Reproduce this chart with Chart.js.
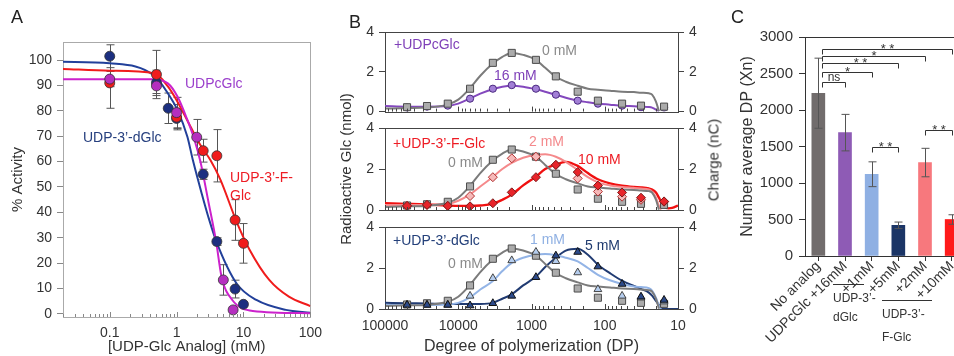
<!DOCTYPE html>
<html lang="en">
<head>
<meta charset="UTF-8">
<title>UDP-Glc analogs and cellulose DP</title>
<script src="https://cdn.jsdelivr.net/npm/chart.js"></script>
<style>
  html, body { margin: 0; padding: 0; background: #fff; overflow: hidden; }
  body { width: 954px; height: 356px; position: relative; font-family: "Liberation Sans", Arial, sans-serif; color: #333; }
  canvas { position: absolute; }
  .lbl { position: absolute; white-space: nowrap; line-height: 1; }
  .letter { font-size: 18px; color: #222; }
  .ovl { position: absolute; border-top: 1px solid #333; height: 0; }
  .rot { position: absolute; white-space: nowrap; line-height: 1; transform: translate(-50%, -50%) rotate(-90deg); }
</style>
</head>
<body>

<canvas id="cA" width="330" height="356" style="left:0;top:0"></canvas>
<canvas id="cB1" width="400" height="125" style="left:330px;top:0"></canvas>
<canvas id="cB2" width="400" height="356" style="left:330px;top:0"></canvas>
<canvas id="cB3" width="400" height="156" style="left:330px;top:200px"></canvas>
<canvas id="cC" width="250" height="356" style="left:730px;top:0"></canvas>

<div class="lbl letter" style="left:11px;top:8px">A</div>
<div class="lbl letter" style="left:349px;top:13px">B</div>
<div class="lbl letter" style="left:731px;top:8px">C</div>

<!-- panel A curve names -->
<div class="lbl" style="left:185px;top:76px;font-size:14px;color:#9b3fcc">UDPcGlc</div>
<div class="lbl" style="left:83px;top:130px;font-size:14px;color:#27407f">UDP-3’-dGlc</div>
<div class="lbl" style="left:230px;top:168px;font-size:14px;color:#ee1c24;line-height:18px">UDP-3’-F-<br>Glc</div>

<!-- panel B labels -->
<div class="lbl" style="left:394px;top:37px;font-size:14px;color:#7e3fb8">+UDPcGlc</div>
<div class="lbl" style="left:542px;top:43px;font-size:14px;color:#8a8a8a">0 mM</div>
<div class="lbl" style="left:494px;top:68px;font-size:14px;color:#7e3fb8">16 mM</div>
<div class="lbl" style="left:393px;top:136px;font-size:14px;color:#ee1c24">+UDP-3’-F-Glc</div>
<div class="lbl" style="left:529px;top:134px;font-size:14px;color:#f4898c">2 mM</div>
<div class="lbl" style="left:448px;top:155px;font-size:14px;color:#8a8a8a">0 mM</div>
<div class="lbl" style="left:578px;top:152px;font-size:14px;color:#ee1c24">10 mM</div>
<div class="lbl" style="left:393px;top:233px;font-size:14px;color:#24407a">+UDP-3’-dGlc</div>
<div class="lbl" style="left:530px;top:232px;font-size:14px;color:#8fb0e3">1 mM</div>
<div class="lbl" style="left:585px;top:238px;font-size:14px;color:#1f3a6e">5 mM</div>
<div class="lbl" style="left:448px;top:256px;font-size:14px;color:#8a8a8a">0 mM</div>
<div class="rot" style="left:713px;top:160px;font-size:15px;color:#333">Charge (nC)</div>

<!-- panel C analog groups -->
<div class="ovl" style="left:833px;top:284px;width:31px"></div>
<div class="lbl" style="left:833px;top:289px;font-size:12px;line-height:19px">UDP-3’-<br>dGlc</div>
<div class="ovl" style="left:882px;top:300px;width:50px"></div>
<div class="lbl" style="left:882px;top:303px;font-size:12px;line-height:23px">UDP-3’-<br>F-Glc</div>

<script>
// ---------- Panel A: % activity vs analog concentration (mM) ----------
const aTicksX = [0.1, 1, 10, 100];
const aTicksY = [0, 10, 20, 30, 40, 50, 60, 70, 80, 90, 100];

const dGlcConc = [0.1, 0.5, 0.75, 1, 2.5, 4, 7.5, 10];
const dGlcAct  = [101.5, 91, 81, 77, 55, 28.5, 9.8, 3.8];
const dGlcErr  = [4.5, 5, 6, 4, 2, 1.5, 3.5, 1];

const fGlcConc = [0.1, 0.5, 1, 2.5, 4, 7.5, 10];
const fGlcAct  = [91, 94.3, 77.5, 64.3, 62.3, 37, 27.8];
const fGlcErr  = [10, 9.5, 5, 4.5, 10.3, 8, 7.8];

const cGlcConc = [0.1, 0.5, 1, 2, 5, 7];
const cGlcAct  = [92.5, 89.8, 79.3, 69.6, 13.4, 1.6];
const cGlcErr  = [3, 3, 6, 7, 6, 0];

// fitted curves
const dGlcFitX = [0.02, 0.1, 0.47, 0.74, 1.03, 1.45, 1.75, 2.4, 3, 4, 7.9, 15.6, 43, 100];
const dGlcFitY = [99.3, 98.7, 93.7, 86.9, 80.3, 69.8, 60.6, 47, 38, 28, 12, 5.5, 1.6, 0.5];
const fGlcFitX = [0.02, 0.1, 0.47, 0.74, 1.03, 1.62, 2.27, 3.2, 4.5, 7.9, 12.4, 24.3, 47.8, 100];
const fGlcFitY = [96.5, 95.8, 94.8, 89.6, 83.6, 73.7, 66.5, 60.6, 53, 36.3, 25.2, 13.4, 6.8, 3.1];
const cGlcFitX = [0.02, 0.43, 0.74, 1.03, 1.45, 1.83, 2.27, 3, 3.9, 4.7, 6.8, 13.8, 100];
const cGlcFitY = [92.4, 92.4, 90.8, 85.6, 76.4, 69, 60, 44, 28.5, 14.7, 5.5, 1.2, 0.3];

// ---------- Panel B: SEC profiles, radioactive Glc (nmol) vs DP ----------
const bTicksX = [100000, 10000, 1000, 100, 10];
const bTicksY = [0, 2, 4];
const fracDP = [50000, 26700, 13900, 6900, 3370, 1860, 870, 465, 234, 124, 58, 32, 15.5];
const ctrlFrac   = [0.22, 0.28, 0.4, 1.15, 2.45, 2.95, 2.6, 1.77, 1.0, 0.55, 0.4, 0.3, 0.25];
const cGlc16Frac = [0.2, 0.25, 0.3, 0.65, 1.15, 1.33, 1.15, 0.85, 0.55, 0.4, 0.3, 0.22, 0.2];
const fGlc2Frac  = [0.2, 0.25, 0.2, 0.68, 1.6, 2.52, 2.6, 2.2, 1.54, 0.9, 0.65, 0.5, 0.4];
const fGlc10Frac = [0.2, 0.25, 0.2, 0.18, 0.33, 0.86, 1.6, 2.2, 1.85, 1.19, 0.85, 0.6, 0.42];
const dGlc1Frac  = [0.2, 0.2, 0.2, 0.64, 1.5, 2.37, 2.78, 2.33, 1.78, 0.96, 0.64, 0.55, 0.36];
const dGlc5Frac  = [0.2, 0.2, 0.2, 0.17, 0.28, 0.64, 1.55, 2.6, 2.78, 2.07, 1.22, 0.6, 0.44];

// charge detector traces (nC)
const traceDP = [100000, 50000, 27000, 14000, 10000, 7000, 5000, 3400, 2500, 1860, 1300, 870, 650, 465, 340,
                 234, 170, 124, 85, 58, 40, 32, 25, 22.6, 20, 18.2, 17, 15.5, 13.5, 12, 10];
const ctrlTrace   = [0.15, 0.18, 0.2, 0.35, 0.6, 1.15, 1.8, 2.4, 2.75, 2.95, 2.85, 2.6, 2.2, 1.75, 1.5,
                     1.3, 1.15, 1.1, 1.05, 1.0, 0.98, 0.95, 0.92, 0.85, 0.5, 0.02, null, null, null, null, null];
const cGlc16Trace = [0.28, 0.25, 0.25, 0.28, 0.4, 0.65, 0.9, 1.12, 1.25, 1.3, 1.25, 1.12, 1.0, 0.85, 0.7,
                     0.55, 0.47, 0.4, 0.35, 0.3, 0.27, 0.25, 0.23, 0.2, 0.1, 0.02, null, null, null, null, null];
const fGlc2Trace  = [0.25, 0.25, 0.25, 0.3, 0.45, 0.75, 1.15, 1.6, 2.0, 2.3, 2.55, 2.7, 2.72, 2.6, 2.35,
                     1.95, 1.6, 1.35, 1.2, 1.12, 1.08, 1.05, 1.0, 0.9, 0.6, 0.2, 0.02, null, null, null, null];
const fGlc10Trace = [0.33, 0.3, 0.27, 0.22, 0.2, 0.2, 0.22, 0.3, 0.5, 0.75, 1.2, 1.63, 2.0, 2.22, 2.35,
                     2.15, 1.8, 1.5, 1.3, 1.18, 1.12, 1.1, 1.05, 1.0, 0.85, 0.6, 0.4, 0.18, 0.08, 0.1, 0.22];
const dGlc1Trace  = [0.2, 0.2, 0.2, 0.22, 0.3, 0.55, 0.95, 1.35, 1.85, 2.25, 2.5, 2.65, 2.68, 2.62, 2.5,
                     2.32, 2.0, 1.67, 1.4, 1.22, 1.1, 1.07, 1.02, 0.9, 0.55, 0.15, 0.0, null, null, null, null];
const dGlc5Trace  = [0.3, 0.28, 0.27, 0.25, 0.25, 0.25, 0.25, 0.3, 0.5, 0.72, 1.15, 1.58, 2.05, 2.5, 2.85,
                     2.94, 2.65, 2.16, 1.75, 1.38, 1.12, 0.98, 0.8, 0.65, 0.4, 0.2, 0.05, 0, 0, 0, 0];

// ---------- Panel C: number average DP ----------
const cCats = ['No analog', 'UDPcGlc +16mM', '+1mM', '+5mM', '+2mM', '+10mM'];
const xnMean = [2230, 1690, 1120, 420, 1280, 500];
const xnErr  = [480, 250, 170, 45, 195, 65];
const cTicksY = [0, 500, 1000, 1500, 2000, 2500, 3000];
const sigFrom  = [0, 0, 0, 0, 0, 2, 4];
const sigTo    = [5, 4, 3, 2, 1, 3, 5];
const sigLevel = [2840, 2740, 2645, 2520, 2385, 1495, 1725];
const sigText  = ['**', '*', '**', '*', 'ns', '**', '**'];

const FONT = '"Liberation Sans", Arial, sans-serif';
Chart.defaults.font.family = FONT;
Chart.defaults.font.size = 14;
Chart.defaults.color = '#333';
Chart.defaults.animation = false;
Chart.defaults.events = [];
Chart.defaults.plugins.legend.display = false;
Chart.defaults.plugins.tooltip.enabled = false;

const pts = (xs, ys) => xs.map((x, i) => ({ x: x, y: ys[i] })).filter(p => p.y !== null);

// box round the plot area
const framePlugin = {
  id: 'frame',
  beforeDatasetsDraw(chart, args, o) {
    const a = chart.chartArea, ctx = chart.ctx;
    ctx.save();
    ctx.strokeStyle = o.color;
    ctx.lineWidth = 1;
    ctx.strokeRect(Math.round(a.left) + 0.5, Math.round(a.top) + 0.5,
                   Math.round(a.right - a.left), Math.round(a.bottom - a.top));
    ctx.restore();
  }
};

// inward ticks on a log x axis
const logTicksPlugin = {
  id: 'logTicks',
  afterDatasetsDraw(chart, args, o) {
    const s = chart.scales.x, a = chart.chartArea, ctx = chart.ctx;
    ctx.save();
    ctx.strokeStyle = o.color;
    ctx.lineWidth = 1;
    ctx.beginPath();
    for (let e = Math.floor(Math.log10(s.min)); e <= Math.ceil(Math.log10(s.max)); e++) {
      for (let k = 1; k <= 9; k++) {
        const v = k * Math.pow(10, e);
        if (v < s.min * 0.999 || v > s.max * 1.001) continue;
        const x = Math.round(s.getPixelForValue(v)) + 0.5;
        ctx.moveTo(x, a.bottom);
        ctx.lineTo(x, a.bottom - (k === 1 ? o.major : o.minor));
      }
    }
    ctx.stroke();
    ctx.restore();
  }
};

function drawErrors(chart, o) {
  const ctx = chart.ctx, ys = chart.scales.y;
  ctx.save();
  ctx.strokeStyle = o.color;
  ctx.lineWidth = 1;
  chart.data.datasets.forEach((ds, di) => {
    if (!ds.errs) return;
    chart.getDatasetMeta(di).data.forEach((el, i) => {
      const e = ds.errs[i];
      if (!e) return;
      const d = ds.data[i];
      const v = typeof d === 'object' ? d.y : d;
      const top = ys.getPixelForValue(v + e), bot = ys.getPixelForValue(v - e);
      const x = Math.round(el.x) + 0.5;
      ctx.beginPath();
      ctx.moveTo(x, top); ctx.lineTo(x, bot);
      ctx.moveTo(x - o.cap, top); ctx.lineTo(x + o.cap, top);
      ctx.moveTo(x - o.cap, bot); ctx.lineTo(x + o.cap, bot);
      ctx.stroke();
    });
  });
  ctx.restore();
}
const errorPlugin = {
  id: 'errorBars',
  beforeDatasetsDraw(chart, args, o) { if (o.layer === 'below') drawErrors(chart, o); },
  afterDatasetsDraw(chart, args, o) { if (o.layer === 'above') drawErrors(chart, o); }
};

// significance brackets for panel C
const sigPlugin = {
  id: 'sig',
  afterDatasetsDraw(chart) {
    const xs = chart.scales.x, ys = chart.scales.y, ctx = chart.ctx;
    ctx.save();
    ctx.strokeStyle = '#333';
    ctx.fillStyle = '#333';
    ctx.lineWidth = 1;
    ctx.textAlign = 'center';
    ctx.textBaseline = 'alphabetic';
    sigFrom.forEach((f, i) => {
      const x1 = Math.round(xs.getPixelForValue(f) + (f === 0 ? 4 : 0)) + 0.5;
      const x2 = Math.round(xs.getPixelForValue(sigTo[i])) + 0.5;
      const y = Math.round(ys.getPixelForValue(sigLevel[i])) + 0.5;
      ctx.beginPath();
      ctx.moveTo(x1, y + 5); ctx.lineTo(x1, y); ctx.lineTo(x2, y); ctx.lineTo(x2, y + 5);
      ctx.stroke();
      const ns = sigText[i] === 'ns';
      ctx.font = (ns ? '12px ' : '13px ') + FONT;
      ctx.fillText(ns ? 'ns' : sigText[i].split('').join(' '), (x1 + x2) / 2, ns ? y - 2 : y + 3);
    });
    ctx.restore();
  }
};

const fixW = w => s => { s.width = w; };
const fixH = h => s => { s.height = h; };
const setTicks = list => s => { s.ticks = list.map(v => ({ value: v })); };

// ---------------- Panel A ----------------
function fitSet(xs, ys, color) {
  return { data: pts(xs, ys), showLine: true, borderColor: color, borderWidth: 2, pointRadius: 0,
           cubicInterpolationMode: 'monotone', order: 10 };
}
function dotSet(xs, ys, errs, color) {
  return { data: pts(xs, ys), errs: errs, backgroundColor: color, borderColor: '#333', borderWidth: 0.8,
           pointRadius: 5, order: 1 };
}
new Chart(document.getElementById('cA'), {
  type: 'scatter',
  data: { datasets: [
    dotSet(cGlcConc, cGlcAct, cGlcErr, '#b52fbf'),
    dotSet(fGlcConc, fGlcAct, fGlcErr, '#f01c1c'),
    dotSet(dGlcConc, dGlcAct, dGlcErr, '#1c2f80'),
    fitSet(cGlcFitX, cGlcFitY, '#cc22cc'),
    fitSet(fGlcFitX, fGlcFitY, '#f01c1c'),
    fitSet(dGlcFitX, dGlcFitY, '#22409a')
  ]},
  options: {
    responsive: false,
    layout: { padding: { left: 0, top: 42, right: 15, bottom: 0 } },
    scales: {
      x: {
        type: 'logarithmic', min: 0.02, max: 100,
        afterBuildTicks: setTicks(aTicksX), afterFit: fixH(39),
        grid: { display: false, drawTicks: false }, border: { display: false },
        ticks: { autoSkip: false, maxRotation: 0, padding: 8, callback: v => String(v) },
        title: { display: true, text: '[UDP-Glc Analog] (mM)', font: { size: 15 }, padding: { top: 0, bottom: 0 } }
      },
      y: {
        min: -1.2, max: 107.1,
        afterBuildTicks: setTicks(aTicksY), afterFit: fixW(63),
        grid: { drawOnChartArea: false, tickLength: 6, color: '#888' }, border: { display: false },
        ticks: { padding: 5 },
        title: { display: true, text: '% Activity', font: { size: 15 }, padding: { top: 9, bottom: 0 } }
      }
    },
    plugins: {
      frame: { color: '#aaa' },
      logTicks: { color: '#888', major: 5, minor: 3 },
      errorBars: { color: '#555', cap: 4, layer: 'below' }
    }
  },
  plugins: [framePlugin, logTicksPlugin, errorPlugin]
});

// ---------------- Panel B ----------------
function traceSet(ys, color, width) {
  return { data: pts(traceDP, ys), showLine: true, borderColor: color, borderWidth: width || 2,
           pointRadius: 0, cubicInterpolationMode: 'monotone', order: 10 };
}
function fracSet(ys, style, fill, edge, r) {
  return { data: pts(fracDP, ys), pointStyle: style, backgroundColor: fill, borderColor: edge,
           borderWidth: 1, pointRadius: r, order: 1 };
}
function panelB(id, datasets, opt) {
  const bottomAxis = !!opt.showX;
  return new Chart(document.getElementById(id), {
    type: 'scatter',
    data: { datasets: datasets },
    options: {
      responsive: false,
      layout: { padding: { left: 0, right: 0, top: opt.top, bottom: opt.bottom } },
      scales: {
        x: {
          type: 'logarithmic', min: 10, max: 100000, reverse: true, display: bottomAxis,
          afterBuildTicks: setTicks(bTicksX), afterFit: fixH(bottomAxis ? 47 : 0),
          grid: { display: false, drawTicks: false }, border: { display: false },
          ticks: { autoSkip: false, maxRotation: 0, padding: 9, callback: v => String(v) },
          title: { display: bottomAxis, text: 'Degree of polymerization (DP)', font: { size: 16 },
                   padding: { top: 0, bottom: 0 } }
        },
        y: {
          min: 0, max: 4, position: 'left',
          afterBuildTicks: setTicks(bTicksY), afterFit: fixW(55),
          grid: { drawOnChartArea: false, tickLength: 6, color: '#444' }, border: { display: false },
          ticks: { padding: 5 },
          title: { display: !!opt.titles, text: 'Radioactive Glc (nmol)', font: { size: 15 },
                   padding: { top: 8, bottom: 0 } }
        },
        y2: {
          min: 0, max: 4, position: 'right',
          afterBuildTicks: setTicks(bTicksY), afterFit: fixW(52),
          grid: { drawOnChartArea: false, tickLength: 6, color: '#444' }, border: { display: false },
          ticks: { padding: 5 }
        }
      },
      plugins: {
        frame: { color: '#444' },
        logTicks: { color: '#444', major: 5, minor: 3 }
      }
    },
    plugins: [framePlugin, logTicksPlugin]
  });
}

const GRAY = '#7b7b7b';
const sq = ys => fracSet(ys, 'rect', '#ababab', '#4d4d4d', 5);

panelB('cB1', [
  sq(ctrlFrac),
  fracSet(cGlc16Frac, 'circle', '#a27fd6', '#4b2a80', 3.6),
  traceSet(ctrlTrace, GRAY),
  traceSet(cGlc16Trace, '#8348bd')
], { top: 32, bottom: 12 });

panelB('cB2', [
  fracSet(fGlc10Frac, 'rectRot', '#e8242a', '#7a1a1a', 4.5),
  fracSet(fGlc2Frac, 'rectRot', '#f6b9b9', '#b03030', 4.5),
  sq(ctrlFrac),
  traceSet(ctrlTrace, GRAY),
  traceSet(fGlc2Trace, '#f5898b'),
  traceSet(fGlc10Trace, '#f01010', 2.4)
], { top: 128, bottom: 146, titles: true });

panelB('cB3', [
  fracSet(dGlc5Frac, 'triangle', '#2c4a8a', '#111', 4.5),
  fracSet(dGlc1Frac, 'triangle', '#b5cdee', '#444', 4.5),
  sq(ctrlFrac),
  traceSet(ctrlTrace, GRAY),
  traceSet(dGlc1Trace, '#93b4e6'),
  traceSet(dGlc5Trace, '#213b72')
], { top: 27, bottom: 0, showX: true });

// ---------------- Panel C ----------------
new Chart(document.getElementById('cC'), {
  type: 'bar',
  data: {
    labels: cCats,
    datasets: [{
      data: xnMean, errs: xnErr, barThickness: 13,
      backgroundColor: ['#716c6c', '#8e5bb5', '#8fb0e3', '#1b3566', '#f7787d', '#ff1a1a']
    }]
  },
  options: {
    responsive: false,
    layout: { padding: { left: 0, top: 37, right: 15, bottom: 0 } },
    scales: {
      x: {
        afterFit: fixH(100),
        grid: { offset: false, drawOnChartArea: false, tickLength: 5, color: '#333' },
        border: { display: false },
        ticks: { minRotation: 45, maxRotation: 45, padding: -3, autoSkip: false, font: { size: 14 } }
      },
      y: {
        min: 0, max: 3000,
        afterBuildTicks: setTicks(cTicksY), afterFit: fixW(75),
        grid: { drawOnChartArea: false, tickLength: 6, color: '#333' }, border: { display: false },
        ticks: { padding: 6, font: { size: 15 }, callback: v => String(v) },
        title: { display: true, text: 'Number average DP (Xn)', font: { size: 16 }, padding: { top: 8, bottom: 0 } }
      }
    },
    plugins: {
      frame: { color: '#333' },
      errorBars: { color: '#555', cap: 4, layer: 'above' }
    }
  },
  plugins: [framePlugin, errorPlugin, sigPlugin]
});
</script>
</body>
</html>
